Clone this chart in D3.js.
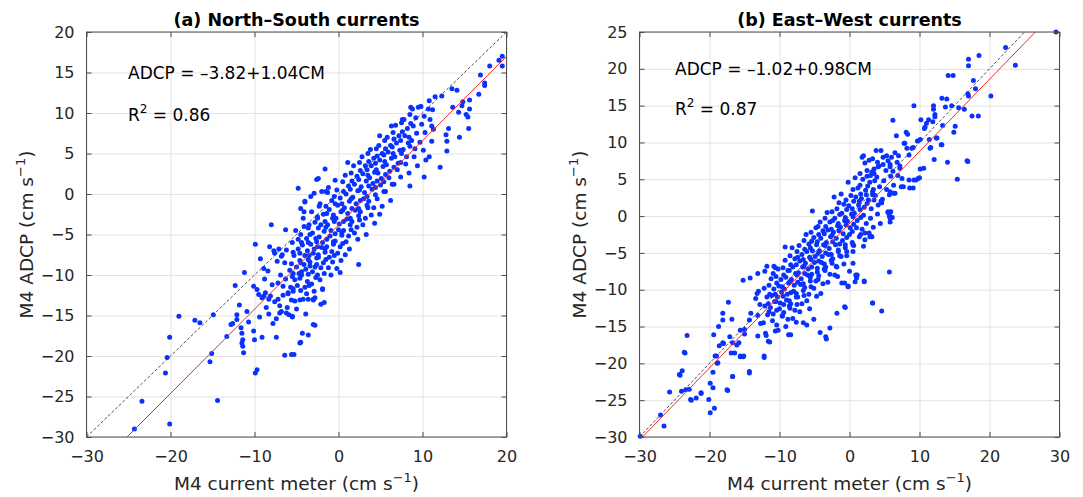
<!DOCTYPE html>
<html lang="en">
<head>
<meta charset="utf-8">
<title>M4 ADCP vs current meter</title>
<script src="https://cdn.jsdelivr.net/npm/d3@7"></script>
<style>
  body { margin: 0; background: #fff; }
  text { font-family: "DejaVu Sans", sans-serif; }
</style>
</head>
<body>
<script>
// Width and height
var w = 1083, h = 497;

// Data: [current meter, ADCP] pairs
var nsPoints = [
  [-24.3,-29.0],[-23.4,-25.6],[-20.1,-28.4],[-20.6,-22.1],[-20.4,-20.2],[-20.1,-17.7],[-19.0,-15.1],[-17.1,-15.6],[-16.5,-15.9],
  [-15.3,-20.7],[-15.1,-19.7],[-14.9,-14.9],[-14.4,-25.5],[-13.3,-17.6],[-12.8,-16.1],[-12.6,-16.0],[-12.3,-11.3],[-12.1,-14.9],
  [-12.1,-15.5],[-11.8,-13.7],[-11.6,-16.5],[-11.5,-17.2],[-11.4,-18.0],[-11.4,-18.8],[-11.3,-19.6],[-11.5,-18.4],[-11.2,-9.7],
  [-10.9,-14.5],[-10.7,-15.8],[-10.1,-16.9],[-10.0,-18.0],[-9.9,-22.1],[-9.7,-21.7],[-9.9,-6.2],[-10.1,-11.4],[-9.7,-11.8],
  [-9.5,-12.4],[-9.1,-17.7],[-8.9,-12.6],[-8.7,-12.2],[-8.3,-13.0],[-8.0,-3.8],[-7.6,-7.3],[-7.4,-17.7],[-7.2,-13.0],[-7.0,-14.7],
  [-6.8,-7.7],[-6.6,-11.4],[-6.4,-19.9],[-6.3,-4.4],[-6.0,-12.2],[-6.2,-14.7],[-5.6,-19.8],[-5.3,-19.8],[-5.5,-15.1],[-5.4,-9.8],
  [-4.8,0.7],[-4.5,-1.8],[-4.5,-18.3],[-4.3,-17.2],[-4.1,-4.0],[-4.0,-0.9],[-3.6,-17.4],[-3.3,-0.3],[-3.0,-16.1],[-2.8,-12.8],
  [-2.4,1.9],[-2.3,-1.5],[-2.1,-13.6],[-1.7,-13.4],[-1.6,3.1],[-1.3,0.2],[-0.4,1.7],[0.2,-9.7],[1.1,3.9],[2.4,-8.7],[4.9,7.2],
  [6.3,8.4],[7.4,3.9],[7.6,9.2],[8.6,10.7],[9.8,10.8],[10.2,2.1],[10.7,10.5],[11.1,8.4],[12.1,3.3],[11.5,12.0],[12.3,12.1],
  [12.9,6.5],[13.5,13.0],[14.1,12.8],[14.3,10.1],[14.4,7.0],[14.8,11.4],[15.4,9.5],[15.5,8.1],[15.6,10.5],[15.6,11.6],[16.7,12.3],
  [16.9,14.7],[17.4,13.7],[17.4,13.4],[18.0,15.8],[19.1,16.5],[19.5,17.0],[19.5,15.8],[12.9,5.3],[13.1,8.1],
  [-2.8,-16.2],[-4.6,-18.4],[-5.5,-15.2],[-5.2,-13.2],[-3.0,-13.1],[-3.6,-13.0],[-1.9,-11.7],[-2.9,0.1],[-2.0,0.3],[-1.5,0.3],
  [-4.1,-2.2],[-4.0,-1.0],[-2.6,1.8],[10.8,4.6],[12.8,7.3],[13.6,10.7],[14.7,10.9],[15.2,9.8],[9.5,10.7],
  [-9.3,-8.0],[-8.8,-10.5],[-9.1,-12.8],[-8.6,-14.0],[-9.4,-15.2],[-8.9,-9.2],
  [-8.2,-6.5],[-7.7,-7.0],[-8.4,-9.5],[-7.9,-11.2],[-8.1,-12.6],[-7.6,-13.3],[-8.3,-14.8],[-7.8,-16.0],
  [-7.1,-6.8],[-6.7,-7.5],[-7.3,-8.3],[-6.9,-10.0],[-7.2,-11.0],[-6.6,-12.5],[-7.0,-13.8],[-6.8,-14.5],[-7.4,-15.4],
  [-6.2,-6.9],[-5.8,-9.4],[-6.3,-10.5],[-5.7,-11.5],[-6.0,-12.3],[-5.6,-13.1],[-6.1,-14.0],[-5.9,-14.9],[-6.4,-8.5],
  [-5.1,-4.5],[-4.8,-6.8],[-5.3,-7.6],[-4.6,-8.2],[-5.0,-9.0],[-4.7,-9.8],[-5.2,-10.6],[-4.9,-11.3],[-5.4,-12.0],[-4.6,-13.1],[-5.0,-14.2],[-4.8,-5.6],
  [-4.2,-3.0],[-3.8,-5.5],[-4.3,-6.3],[-3.7,-7.0],[-4.0,-7.6],[-3.6,-8.1],[-4.1,-8.7],[-3.9,-9.3],[-4.4,-10.0],[-3.7,-10.8],[-4.0,-11.5],[-3.8,-12.3],[-4.2,-13.0],[-3.9,-14.8],[-3.6,-4.2],
  [-3.2,-2.2],[-2.8,-3.5],[-3.1,-4.8],[-2.7,-5.5],[-3.3,-6.2],[-2.9,-6.8],[-3.0,-7.3],[-2.6,-7.9],[-3.4,-8.4],[-2.8,-9.0],[-3.1,-9.6],[-2.7,-10.3],[-3.2,-11.1],[-2.9,-12.0],[-3.0,-13.0],
  [-2.2,-1.2],[-1.8,-2.5],[-2.1,-3.8],[-1.7,-4.6],[-2.3,-5.3],[-1.9,-6.0],[-2.0,-6.6],[-1.6,-7.2],[-2.4,-7.8],[-1.8,-8.5],[-2.1,-9.1],[-1.7,-9.8],[-2.2,-10.6],[-1.9,-11.8],[-2.5,-3.0],
  [-1.2,0.8],[-0.8,-0.8],[-1.1,-1.9],[-0.7,-3.0],[-1.3,-3.8],[-0.9,-4.5],[-1.0,-5.2],[-0.6,-5.9],[-1.4,-6.5],[-0.8,-7.1],[-1.1,-7.8],[-0.7,-8.4],[-1.2,-9.1],[-0.9,-10.0],
  [-0.2,0.5],[0.2,-0.5],[-0.1,-1.4],[0.3,-2.2],[-0.3,-3.0],[0.1,-3.7],[0.0,-4.4],[0.4,-5.1],[-0.4,-5.8],[0.2,-6.5],[-0.1,-7.3],[0.3,-8.2],[-0.2,-9.2],
  [0.8,2.3],[1.2,1.0],[0.9,0.0],[1.3,-0.9],[0.7,-1.7],[1.1,-2.4],[1.0,-3.1],[1.4,-3.8],[0.6,-4.5],[1.2,-5.2],[0.9,-5.9],[1.3,-6.8],[0.8,-7.5],
  [1.8,3.5],[2.2,2.2],[1.9,1.2],[2.3,0.4],[1.7,-0.4],[2.1,-1.2],[2.0,-2.0],[2.4,-2.7],[1.6,-3.4],[2.2,-4.1],[1.9,-4.8],[2.3,-5.6],
  [2.8,4.6],[3.2,3.5],[2.9,2.5],[3.3,1.6],[2.7,0.9],[3.1,0.2],[3.0,-0.6],[3.4,-1.4],[2.6,-2.2],[3.2,-3.0],[2.9,-3.8],[3.3,-5.0],
  [3.8,5.5],[4.2,4.4],[3.9,3.5],[4.3,2.7],[3.7,2.0],[4.1,1.3],[4.0,0.6],[4.4,-0.1],[3.6,-0.9],[4.2,-1.7],[3.9,-2.6],[4.3,-3.6],
  [4.8,6.0],[5.2,5.0],[4.9,4.2],[5.3,3.4],[4.7,2.6],[5.1,1.9],[5.0,1.1],[5.4,0.3],[4.6,-0.6],[5.2,-1.5],[4.9,-2.5],
  [5.8,7.0],[6.2,6.0],[5.9,5.2],[6.3,4.4],[5.7,3.6],[6.1,2.8],[6.0,2.0],[6.4,1.2],[5.6,0.3],[6.2,-0.8],
  [6.8,8.5],[7.2,7.2],[6.9,6.3],[7.3,5.4],[6.7,4.6],[7.1,3.8],[7.0,3.0],[7.4,2.1],[6.6,1.2],
  [7.8,9.2],[8.2,8.1],[7.9,7.2],[8.3,6.3],[7.7,5.5],[8.1,4.6],[8.0,3.7],[8.4,2.6],[8.5,1.0],
  [8.8,10.5],[9.2,9.4],[8.9,8.4],[9.3,7.5],[8.7,6.6],[9.1,5.6],[9.0,4.6],[9.4,3.5],
  [9.8,10.8],[10.2,9.6],[9.9,8.6],[10.3,7.6],[9.7,6.4],[10.1,5.4],[10.4,4.2],
  [10.8,11.5],[11.2,10.4],[10.9,9.2],[11.3,8.0],[11.1,6.5],
  [-5.5,-6.0],[-5.4,-7.2],[-5.6,-8.6],[-5.5,-10.2],[-5.4,-11.7],
  [-4.5,-5.0],[-4.4,-6.0],[-4.6,-7.3],[-4.5,-8.5],[-4.4,-9.6],[-4.6,-10.4],[-4.5,-11.9],
  [-3.5,-3.8],[-3.4,-5.0],[-3.6,-6.0],[-3.5,-7.6],[-3.4,-8.9],[-3.6,-9.9],[-3.5,-11.3],
  [-2.5,-2.8],[-2.4,-4.2],[-2.6,-5.9],[-2.5,-6.5],[-2.4,-7.5],[-2.6,-8.7],[-2.5,-10.0],
  [-1.5,-1.5],[-1.4,-2.4],[-1.6,-3.4],[-1.5,-4.1],[-1.4,-5.6],[-1.6,-6.8],[-1.5,-8.1],
  [-0.5,-0.3],[-0.4,-1.2],[-0.6,-2.6],[-0.5,-3.4],[-0.4,-4.9],[-0.6,-6.2],[-0.5,-7.6],
  [0.5,1.5],[0.6,0.3],[0.4,-1.2],[0.5,-2.0],[0.6,-3.4],[0.4,-4.8],[0.5,-6.1],
  [1.5,2.6],[1.6,1.6],[1.4,0.6],[1.5,-0.6],[1.6,-1.8],[1.4,-3.0],[1.5,-4.4],
  [2.5,3.9],[2.6,2.9],[2.4,1.8],[2.5,0.5],[2.6,-0.8],[2.4,-1.8],[2.5,-3.2],
  [3.5,5.0],[3.6,4.0],[3.4,3.0],[3.5,2.3],[3.6,1.0],[3.4,-0.3],[3.5,-1.7],
  [4.5,5.6],[4.6,4.7],[4.4,3.8],[4.5,3.0],[4.6,1.6],[4.4,0.8],
  [5.5,6.6],[5.6,5.6],[5.4,4.8],[5.5,4.0],[5.6,2.4],[5.4,1.5],
  [6.5,7.6],[6.6,6.8],[6.4,5.8],[6.5,5.0],[6.6,3.3],
  [7.5,8.8],[7.6,7.7],[7.4,6.6],[7.5,5.0],
  [8.5,9.8],[8.6,8.7],[8.4,7.0],[8.5,5.9]
];

var ewPoints = [
  [29.5,25.0],[22.3,22.9],[23.7,20.5],[20.2,16.3],[18.5,21.8],[17.0,20.4],[17.0,21.3],[17.7,18.4],[17.5,13.6],[18.4,13.6],
  [18.0,17.3],[17.0,16.3],[16.9,16.6],[16.4,14.5],[15.6,14.7],[15.4,5.0],[16.9,7.4],[14.1,19.1],[14.8,19.1],[13.9,15.9],
  [13.2,16.0],[13.7,14.8],[14.6,15.0],[15.1,12.2],[14.9,11.4],[13.3,12.3],[13.1,9.7],[14.0,7.3],[12.0,15.0],[12.0,14.5],
  [12.2,13.8],[11.3,13.1],[10.8,12.1],[11.4,10.4],[10.2,13.1],[10.1,10.4],[11.6,9.3],[12.1,7.7],[12.4,10.6],[9.2,15.0],
  [8.1,11.4],[8.3,11.1],[7.8,9.9],[8.2,9.2],[9.1,9.3],[9.7,10.2],[6.7,10.9],[6.2,13.0],[10.6,6.5],[10.0,5.2],[9.1,3.8],
  [8.5,4.9],[9.5,4.9],[7.7,4.0],[7.2,6.8],[6.3,3.1],[5.7,2.9],[5.7,-7.6],[4.6,-12.9],[3.3,-11.8],[2.1,-8.8],[1.0,-8.4],
  [0.9,-8.0],[-0.2,-9.5],[-0.7,-12.3],[-1.8,-13.2],[-2.8,-15.2],[-3.4,-16.4],[-3.3,-16.7],[-4.2,-15.8],[-5.1,-14.0],
  [-6.1,-14.8],[-6.6,-14.5],[-7.6,-14.4],[-8.4,-16.1],[-8.7,-16.1],[-10.2,-15.5],[-11.6,-17.0],[-12.2,-19.0],[-12.0,-15.9],
  [-14.3,-21.1],[-15.6,-19.0],[-15.1,-19.0],[-16.7,-21.8],[-17.5,-23.6],[-17.3,-11.7],[-19.4,-16.1],[-19.0,-19.0],[-18.8,-19.9],
  [-19.5,-21.2],[-19.9,-22.7],[-19.5,-23.3],[-20.1,-24.9],[-19.9,-26.7],[-19.3,-26.1],[-21.2,-24.0],[-21.9,-24.7],[-22.7,-24.9],
  [-22.9,-23.5],[-23.2,-16.2],[-23.6,-18.5],[-23.9,-21.0],[-24.3,-21.5],[-24.0,-23.8],[-25.7,-23.9],[-27.0,-27.0],[-26.5,-28.5],
  [-29.9,-29.9],[-18.1,-17.2],[-16.7,-17.2],[-16.9,-18.6],[-15.8,-17.2],[-15.0,-15.4],[-14.3,-14.1],[-14.1,-13.2],[-13.1,-16.3],
  [-15.2,-8.7],[-14.2,-8.4],[-13.1,-7.8],[-11.8,-6.8],[-10.8,-6.8],[-13.0,-10.2],[-12.1,-7.5],[-10.9,-7.8],[-10.6,-7.0],[-9.2,-4.2],
  [-12.2,-19.2],[-11.4,-17.1],[-14.3,-21.3],[-17.4,-23.7],[-16.7,-21.8],[-18.1,-13.2],[-18.1,-14.1],[-18.7,-15.0],[-17.1,-16.4],
  [-18.6,-17.6],[-19.2,-19.0],[-18.9,-20.0],[-21.2,-24.1],[-22.6,-25.0],[-23.4,-23.6],[-24.2,-21.6],[-23.5,-18.6],
  [-16.8,-14.0],[-15.6,-15.5],[-15.0,-16.0],[-16.1,-17.5],[-18.0,-17.3],[-16.4,-18.6],[-15.6,-19.1],[-15.2,-19.1],
  [1.8,-1.8],[2.8,-2.3],[3.0,-2.7],[2.0,-4.1],[0.5,-6.4],[-1.2,-5.5],[-1.9,-6.8],[-1.7,-8.2],[-0.7,-9.1],[4.5,2.0],[5.5,0.6],[5.7,0.0],[3.3,2.9],
  [2.0,8.2],[4.5,8.9],[3.3,7.8],[4.1,6.7],[5.3,8.2],[5.8,6.7],[7.9,9.9],[8.9,9.2],[8.5,8.3],[11.0,12.6],[11.9,12.8],[12.2,13.5],
  [10.7,11.9],[11.5,9.2],[12.5,10.6],[13.2,9.7],[16.8,7.5],[10.1,6.4],[9.2,4.9],[9.8,5.1],[7.5,5.1],[8.6,3.8],[7.4,4.0],[5.8,3.3],
  [6.5,3.1],[4.6,1.8],[5.5,0.5],[5.8,-0.3],[1.5,5.8],[2.5,6.2],[3.0,5.5],[3.5,5.8],[4.0,7.3],[4.8,7.0],[5.5,7.5],[6.0,8.0],[6.5,8.6],[7.0,8.2],
  [3.3,-11.8],[0.0,-7.5],[1.1,-8.0],[0.8,-8.9],[2.1,-8.9],[-0.2,-9.6],[-0.6,-12.4],[-1.1,-9.1],[-0.4,-5.4],[0.5,-4.8],[0.5,-3.9],[2.9,-2.8],[2.2,-2.3],
  [-13.2,-10.5],[-12.8,-12.0],[-13.1,-13.5],[-12.7,-14.6],[-13.4,-11.2],
  [-12.2,-9.8],[-11.8,-11.0],[-12.1,-12.2],[-11.7,-13.4],[-12.3,-14.5],[-11.9,-16.2],
  [-11.2,-8.5],[-10.8,-9.9],[-11.1,-10.8],[-10.7,-11.6],[-11.3,-12.4],[-10.9,-13.3],[-11.0,-14.2],[-10.6,-15.6],
  [-10.2,-7.2],[-9.8,-8.6],[-10.1,-9.5],[-9.7,-10.3],[-10.3,-11.0],[-9.9,-11.8],[-10.0,-12.6],[-9.6,-13.5],[-10.4,-14.8],
  [-9.2,-6.0],[-8.8,-7.4],[-9.1,-8.3],[-8.7,-9.1],[-9.3,-9.9],[-8.9,-10.6],[-9.0,-11.4],[-8.6,-12.2],[-9.4,-13.1],[-8.8,-14.0],[-9.1,-15.0],
  [-8.2,-4.3],[-7.8,-5.8],[-8.1,-6.9],[-7.7,-7.8],[-8.3,-8.6],[-7.9,-9.4],[-8.0,-10.2],[-7.6,-11.0],[-8.4,-11.9],[-7.8,-12.8],[-8.1,-13.9],
  [-7.2,-4.0],[-6.8,-5.2],[-7.1,-6.1],[-6.7,-6.9],[-7.3,-7.7],[-6.9,-8.5],[-7.0,-9.3],[-6.6,-10.1],[-7.4,-11.0],[-6.8,-11.9],[-7.1,-13.0],
  [-6.2,-2.5],[-5.8,-3.8],[-6.1,-4.8],[-5.7,-5.6],[-6.3,-6.4],[-5.9,-7.2],[-6.0,-8.0],[-5.6,-8.8],[-6.4,-9.7],[-5.8,-10.6],[-6.1,-11.5],[-5.7,-12.6],
  [-5.3,0.7],[-4.8,-1.6],[-5.1,-2.9],[-4.7,-3.9],[-5.3,-4.7],[-4.9,-5.5],[-5.0,-6.3],[-4.6,-7.1],[-5.4,-7.9],[-4.8,-8.8],[-5.1,-9.8],[-4.7,-10.9],
  [-4.2,-0.8],[-3.8,-2.0],[-4.1,-3.0],[-3.7,-3.9],[-4.3,-4.7],[-3.9,-5.5],[-4.0,-6.3],[-3.6,-7.2],[-4.4,-8.1],[-3.8,-9.2],[-4.1,-10.5],
  [-3.2,0.5],[-2.8,-0.8],[-3.1,-1.9],[-2.7,-2.8],[-3.3,-3.6],[-2.9,-4.4],[-3.0,-5.2],[-2.6,-6.0],[-3.4,-6.9],[-2.8,-7.9],[-3.1,-9.0],
  [-2.2,2.6],[-1.8,1.0],[-2.1,-0.3],[-1.7,-1.3],[-2.3,-2.2],[-1.9,-3.0],[-2.0,-3.9],[-1.6,-4.8],[-2.4,-5.8],[-1.8,-6.9],[-2.1,-8.0],
  [-1.2,3.0],[-0.8,1.6],[-1.1,0.4],[-0.7,-0.6],[-1.3,-1.5],[-0.9,-2.4],[-1.0,-3.3],[-0.6,-4.3],[-1.4,-5.4],[-0.8,-6.5],
  [-0.2,4.6],[0.2,2.8],[-0.1,1.4],[0.3,0.3],[-0.3,-0.7],[0.1,-1.6],[0.0,-2.5],[0.4,-3.6],[-0.4,-4.8],
  [0.8,5.2],[1.2,3.8],[0.9,2.6],[1.3,1.5],[0.7,0.4],[1.1,-0.6],[1.0,-1.6],[1.4,-2.8],[0.6,-4.0],
  [1.8,8.0],[2.2,7.2],[1.9,5.0],[2.3,3.5],[1.7,2.4],[2.1,1.2],[2.0,0.1],[2.4,-1.0],[1.6,-2.5],[2.2,-3.2],
  [2.8,7.6],[3.2,6.0],[2.9,4.6],[3.3,3.3],[2.7,2.2],[3.1,1.0],[3.0,-0.3],[3.4,-1.5],[3.2,-2.8],
  [3.8,8.9],[4.2,6.8],[3.9,5.3],[4.3,4.0],[3.7,2.8],[4.1,1.5],[4.0,0.3],[4.4,-1.0],
  [4.8,8.0],[5.2,6.2],[4.9,4.8],[5.3,3.6],[4.7,2.3],[5.7,0.4],[5.8,-0.8],
  [5.8,7.0],[6.2,6.1],[5.9,5.4],[6.3,4.2],[5.9,0.6],[6.1,-0.2],
  [6.8,7.3],[7.2,6.5],[6.9,5.5],
  [-11.5,-9.4],[-11.4,-10.6],[-11.6,-11.9],[-11.5,-13.0],
  [-10.5,-8.2],[-10.4,-9.1],[-10.6,-10.6],[-10.5,-11.6],[-10.4,-12.8],
  [-9.5,-7.0],[-9.4,-8.0],[-9.6,-9.6],[-9.5,-10.9],[-9.4,-12.0],[-9.6,-13.6],
  [-8.5,-5.4],[-8.4,-6.6],[-8.6,-7.4],[-8.5,-8.9],[-8.4,-10.4],[-8.6,-11.5],[-8.5,-12.5],
  [-7.5,-4.8],[-7.4,-5.6],[-7.6,-6.6],[-7.5,-8.0],[-7.4,-9.0],[-7.6,-10.5],[-7.5,-12.0],
  [-6.5,-3.3],[-6.4,-4.5],[-6.6,-5.9],[-6.5,-6.8],[-6.4,-7.8],[-6.6,-9.2],[-6.5,-10.8],
  [-5.5,-2.2],[-5.4,-3.4],[-5.6,-4.3],[-5.5,-5.9],[-5.4,-6.9],[-5.6,-8.3],[-5.5,-9.6],
  [-4.5,-1.4],[-4.4,-2.5],[-4.6,-3.5],[-4.5,-5.1],[-4.4,-6.1],[-4.6,-7.6],[-4.5,-8.6],
  [-3.5,-0.3],[-3.4,-1.4],[-3.6,-2.4],[-3.5,-4.0],[-3.4,-5.0],[-3.6,-6.5],[-3.5,-7.4],
  [-2.5,0.6],[-2.4,-0.6],[-2.6,-1.8],[-2.5,-2.6],[-2.4,-3.5],[-2.6,-5.2],[-2.5,-6.4],
  [-1.5,1.8],[-1.4,0.2],[-1.6,-1.0],[-1.5,-2.0],[-1.4,-3.8],[-1.6,-4.6],
  [-0.5,2.2],[-0.4,0.9],[-0.6,-0.2],[-0.5,-1.2],[-0.4,-2.9],[-0.6,-3.9],
  [0.5,3.6],[0.6,2.0],[0.4,1.0],[0.5,-0.1],[0.6,-1.1],[0.4,-2.1],
  [1.5,4.2],[1.6,3.0],[1.4,2.0],[1.5,0.9],[1.6,-0.2],
  [2.5,5.4],[2.6,4.1],[2.4,2.9],[2.5,1.7],
  [3.5,6.4],[3.6,4.8],[3.4,3.6],[3.5,2.2]
];

// Regression fits (intercept, slope) and stats for each panel
var fitIntercepts = [-3.82, -1.02];
var fitSlopes = [1.04, 0.98];
var rSquared = ["0.86", "0.87"];
var titles = ["(a) North\u2013South currents", "(b) East\u2013West currents"];
var equations = ["ADCP = \u20133.82+1.04CM", "ADCP = \u20131.02+0.98CM"];

// Axis ranges and tick labels
var nsDomainX = [-30, 20], nsDomainY = [-30, 20];
var ewDomainX = [-30, 30], ewDomainY = [-30, 25];
var nsTicksX = [-30, -20, -10, 0, 10, 20];
var nsTicksY = [-30, -25, -20, -15, -10, -5, 0, 5, 10, 15, 20];
var ewTicksX = [-30, -20, -10, 0, 10, 20, 30];
var ewTicksY = [-30, -25, -20, -15, -10, -5, 0, 5, 10, 15, 20, 25];

var svg = d3.select("body").append("svg")
    .attr("width", w)
    .attr("height", h);

var panels = [
  { points: nsPoints, dx: nsDomainX, dy: nsDomainY, tx: nsTicksX, ty: nsTicksY, left: 86.5, right: 506.5, eqX: 128, eqY: 79, r2Y: 121 },
  { points: ewPoints, dx: ewDomainX, dy: ewDomainY, tx: ewTicksX, ty: ewTicksY, left: 639.5, right: 1059.5, eqX: 675, eqY: 75, r2Y: 115 }
];
var plotTop = 32, plotBottom = 437;   // "top" is taken by window.top

panels.forEach(function(p, i) {
  var x = d3.scaleLinear().domain(p.dx).range([p.left, p.right]);
  var y = d3.scaleLinear().domain(p.dy).range([plotBottom, plotTop]);
  var pw = p.right - p.left, ph = plotBottom - plotTop;
  var g = svg.append("g");

  // grid lines
  g.append("g").attr("transform", "translate(0," + plotBottom + ")")
    .call(d3.axisBottom(x).tickValues(p.tx).tickSize(-ph).tickFormat(""))
    .call(function(s) { s.select(".domain").remove(); s.selectAll("line").attr("stroke", "#e3e3e3"); });
  g.append("g").attr("transform", "translate(" + p.left + ",0)")
    .call(d3.axisLeft(y).tickValues(p.ty).tickSize(-pw).tickFormat(""))
    .call(function(s) { s.select(".domain").remove(); s.selectAll("line").attr("stroke", "#e3e3e3"); });

  // clip lines to the plot box
  var clipId = "clip" + i;
  svg.append("clipPath").attr("id", clipId)
    .append("rect").attr("x", p.left).attr("y", plotTop).attr("width", pw).attr("height", ph);

  // 1:1 line
  var hi = Math.min(p.dx[1], p.dy[1]);
  g.append("line")
    .attr("x1", x(-30)).attr("y1", y(-30))
    .attr("x2", x(hi)).attr("y2", y(hi))
    .attr("stroke", "#222").attr("stroke-width", 0.8)
    .attr("stroke-dasharray", "3,2")
    .attr("clip-path", "url(#" + clipId + ")");

  // points (markers are not clipped, like MATLAB)
  g.append("g")
    .selectAll("circle")
    .data(p.points)
    .enter()
    .append("circle")
    .attr("cx", function(d) { return x(d[0]); })
    .attr("cy", function(d) { return y(d[1]); })
    .attr("r", 2.5)
    .attr("fill", "#0a32ff");

  // regression line
  var a = fitIntercepts[i], b = fitSlopes[i];
  g.append("line")
    .attr("x1", x(p.dx[0])).attr("y1", y(a + b * p.dx[0]))
    .attr("x2", x(p.dx[1])).attr("y2", y(a + b * p.dx[1]))
    .attr("stroke", "#ee2b24").attr("stroke-width", 1)
    .attr("clip-path", "url(#" + clipId + ")");

  // box
  g.append("rect")
    .attr("x", p.left).attr("y", plotTop).attr("width", pw).attr("height", ph)
    .attr("fill", "none").attr("stroke", "#4d4d4d").attr("stroke-width", 1);

  // inward ticks with labels, plus ticks on top/right
  function styleAxis(s) {
    s.select(".domain").remove();
    s.selectAll("line").attr("stroke", "#4d4d4d");
    s.selectAll("text").attr("fill", "#262626").attr("font-size", 16)
      .attr("font-family", "DejaVu Sans");
  }
  g.append("g").attr("transform", "translate(0," + plotBottom + ")")
    .call(d3.axisBottom(x).tickValues(p.tx).tickSizeInner(-5).tickPadding(14))
    .call(styleAxis);
  g.append("g").attr("transform", "translate(0," + plotTop + ")")
    .call(d3.axisTop(x).tickValues(p.tx).tickSizeInner(-5).tickFormat(""))
    .call(styleAxis);
  g.append("g").attr("transform", "translate(" + p.left + ",0)")
    .call(d3.axisLeft(y).tickValues(p.ty).tickSizeInner(-5).tickPadding(12))
    .call(styleAxis);
  g.append("g").attr("transform", "translate(" + p.right + ",0)")
    .call(d3.axisRight(y).tickValues(p.ty).tickSizeInner(-5).tickFormat(""))
    .call(styleAxis);

  var cx = (p.left + p.right) / 2;

  // title
  g.append("text")
    .attr("x", cx).attr("y", 26)
    .attr("text-anchor", "middle")
    .attr("font-size", 17.5).attr("font-weight", "bold")
    .attr("fill", "#000")
    .text(titles[i]);

  // x label
  var xl = g.append("text")
    .attr("x", cx).attr("y", 490)
    .attr("text-anchor", "middle")
    .attr("font-size", 18.5).attr("fill", "#262626");
  xl.append("tspan").text("M4 current meter (cm s");
  xl.append("tspan").attr("dy", -8).attr("font-size", 13).text("\u22121");
  xl.append("tspan").attr("dy", 8).text(")");

  // y label
  var yl = g.append("text")
    .attr("transform", "translate(" + (p.left - 54) + "," + ((plotTop + plotBottom) / 2) + ") rotate(-90)")
    .attr("text-anchor", "middle")
    .attr("font-size", 18.5).attr("fill", "#262626");
  yl.append("tspan").text("M4 ADCP (cm s");
  yl.append("tspan").attr("dy", -8).attr("font-size", 13).text("\u22121");
  yl.append("tspan").attr("dy", 8).text(")");

  // annotations
  g.append("text")
    .attr("x", p.eqX).attr("y", p.eqY)
    .attr("font-size", 17).attr("fill", "#000")
    .text(equations[i]);
  var r2 = g.append("text")
    .attr("x", p.eqX).attr("y", p.r2Y)
    .attr("font-size", 17).attr("fill", "#000");
  r2.append("tspan").text("R");
  r2.append("tspan").attr("dy", -8).attr("font-size", 12).text("2");
  r2.append("tspan").attr("dy", 8).text(" = " + rSquared[i]);
});
</script>
</body>
</html>
